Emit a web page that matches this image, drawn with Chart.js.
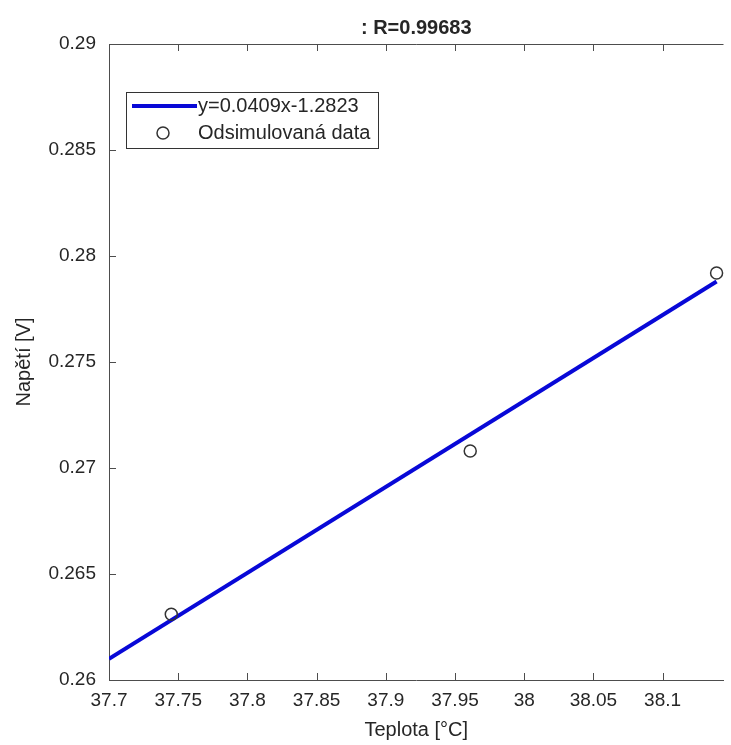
<!DOCTYPE html>
<html lang="cs">
<head>
<meta charset="UTF-8" />
<title>Napětí vs. teplota</title>
<script src="https://cdn.jsdelivr.net/npm/chart.js"></script>
<style>
  html, body { margin: 0; padding: 0; background: #fff; }
  #wrap { width: 731px; height: 745px; }
</style>
</head>
<body>
<div id="wrap"><canvas id="chart" width="731" height="745"></canvas></div>
<script>
  // hodnoty
  const teplota = [37.745, 37.961, 38.139];
  const napeti = [0.2631, 0.2708, 0.2792];

  // koncové body proložené přímky
  const fitX = [37.7, 38.139];
  const fitY = [0.2610, 0.2788];

  const xTicks = [37.7, 37.75, 37.8, 37.85, 37.9, 37.95, 38, 38.05, 38.1];
  const yTicks = [0.26, 0.265, 0.27, 0.275, 0.28, 0.285, 0.29];

  const titleText = ": R=0.99683";
  const legendLabels = ["y=0.0409x-1.2823", "Odsimulovaná data"];

  const axisColor = "#4d4d4d";
  const textColor = "#262626";
  const lineColor = "rgb(8, 8, 215)";

  Chart.defaults.font.family = "'Liberation Sans', Arial, Helvetica, sans-serif";
  Chart.defaults.color = textColor;

  // rámeček a ticky dovnitř (jako v MATLABu)
  const matlabAxes = {
    id: "matlabAxes",
    afterDraw(chart) {
      const { ctx, chartArea: ca, scales } = chart;
      const tl = 7;
      ctx.save();
      ctx.strokeStyle = axisColor;
      ctx.lineWidth = 1;
      ctx.beginPath();
      ctx.moveTo(ca.left, Math.round(ca.top) + 0.5);
      ctx.lineTo(ca.right, Math.round(ca.top) + 0.5);
      xTicks.forEach((v) => {
        const px = Math.round(scales.x.getPixelForValue(v)) + 0.5;
        ctx.moveTo(px, ca.bottom);
        ctx.lineTo(px, ca.bottom - tl);
        ctx.moveTo(px, ca.top);
        ctx.lineTo(px, ca.top + tl);
      });
      yTicks.forEach((v) => {
        const py = Math.round(scales.y.getPixelForValue(v)) + 0.5;
        ctx.moveTo(ca.left, py);
        ctx.lineTo(ca.left + tl, py);
      });
      ctx.stroke();
      ctx.restore();
    },
  };

  // legenda s rámečkem uvnitř grafu
  const matlabLegend = {
    id: "matlabLegend",
    afterDraw(chart) {
      const { ctx, chartArea: ca } = chart;
      const left = ca.left + 17;
      const top = ca.top + 48;
      const w = 252;
      const h = 56;
      ctx.save();
      ctx.fillStyle = "#fff";
      ctx.fillRect(left, top, w, h);
      ctx.strokeStyle = "#333";
      ctx.lineWidth = 1;
      ctx.strokeRect(Math.round(left) + 0.5, Math.round(top) + 0.5, w, h);

      const row1 = top + 14;
      const row2 = top + 41;
      // čára
      ctx.strokeStyle = lineColor;
      ctx.lineWidth = 4;
      ctx.beginPath();
      ctx.moveTo(left + 6, row1);
      ctx.lineTo(left + 71, row1);
      ctx.stroke();
      // kroužek
      ctx.strokeStyle = "#333";
      ctx.lineWidth = 1.5;
      ctx.beginPath();
      ctx.arc(left + 37, row2, 6, 0, Math.PI * 2);
      ctx.stroke();
      // texty
      ctx.fillStyle = textColor;
      ctx.font = "20px 'Liberation Sans', Arial, sans-serif";
      ctx.textBaseline = "middle";
      ctx.textAlign = "left";
      ctx.fillText(legendLabels[0], left + 72, row1);
      ctx.fillText(legendLabels[1], left + 72, row2);
      ctx.restore();
    },
  };

  new Chart(document.getElementById("chart"), {
    type: "scatter",
    data: {
      datasets: [
        {
          label: legendLabels[1],
          data: teplota.map((x, i) => ({ x: x, y: napeti[i] })),
          pointStyle: "circle",
          pointRadius: 6,
          pointHoverRadius: 6,
          borderWidth: 1.5,
          borderColor: "#333",
          backgroundColor: "rgba(0,0,0,0)",
          clip: false,
        },
        {
          label: legendLabels[0],
          data: fitX.map((x, i) => ({ x: x, y: fitY[i] })),
          showLine: true,
          borderColor: lineColor,
          borderWidth: 4,
          pointRadius: 0,
          fill: false,
        },
      ],
    },
    options: {
      responsive: false,
      animation: false,
      devicePixelRatio: 1,
      layout: { padding: 0 },
      plugins: {
        legend: { display: false },
        tooltip: { enabled: false },
        title: {
          display: true,
          text: titleText,
          fullSize: false,
          color: textColor,
          font: { size: 20, weight: "bold" },
          padding: { top: 16, bottom: 4 },
        },
      },
      scales: {
        x: {
          type: "linear",
          min: 37.7,
          max: 38.144,
          afterBuildTicks: (scale) => {
            scale.ticks = xTicks.map((v) => ({ value: v }));
          },
          afterFit: (scale) => {
            scale.height = 65;
          },
          grid: { display: false, drawTicks: false },
          border: { display: true, color: axisColor, width: 1 },
          ticks: {
            padding: 9,
            maxRotation: 0,
            autoSkip: false,
            font: { size: 19 },
            color: textColor,
            callback: (v) => String(Number(v.toFixed(3))),
          },
          title: {
            display: true,
            text: "Teplota [°C]",
            font: { size: 20 },
            color: textColor,
            padding: { top: 0, bottom: 3 },
          },
        },
        y: {
          type: "linear",
          min: 0.26,
          max: 0.29,
          afterBuildTicks: (scale) => {
            scale.ticks = yTicks.map((v) => ({ value: v }));
          },
          afterFit: (scale) => {
            scale.width = 109;
          },
          grid: { display: false, drawTicks: false },
          border: { display: true, color: axisColor, width: 1 },
          ticks: {
            padding: 13,
            autoSkip: false,
            font: { size: 19 },
            color: textColor,
            callback: (v) => String(Number(v.toFixed(4))),
          },
          title: {
            display: true,
            text: "Napětí [V]",
            font: { size: 20 },
            color: textColor,
            padding: { top: 12, bottom: 0 },
          },
        },
      },
    },
    plugins: [matlabAxes, matlabLegend],
  });
</script>
</body>
</html>
